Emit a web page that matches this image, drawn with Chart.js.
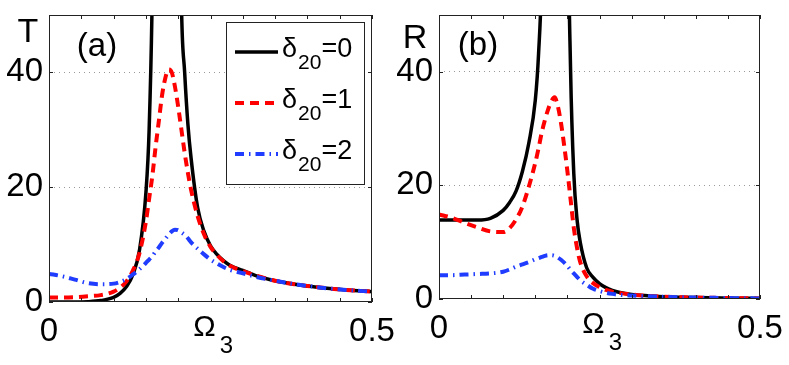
<!DOCTYPE html>
<html>
<head>
<meta charset="utf-8">
<script src="https://cdn.jsdelivr.net/npm/chart.js@4/dist/chart.umd.min.js"></script>
<style>
  html, body { margin: 0; padding: 0; background: #fff; overflow: hidden; }
  #wrap { position: relative; width: 789px; height: 365px; }
  canvas { position: absolute; top: 0; }
</style>
</head>
<body>
<div id="wrap">
  <canvas id="panel-a" width="400" height="365" style="left:0px"></canvas>
  <canvas id="panel-b" width="397" height="365" style="left:392px"></canvas>
</div>
<script>
// shared x grid (Omega_3)
const omega = [0, 0.02, 0.04, 0.06, 0.08, 0.1, 0.11, 0.12, 0.13, 0.14, 0.15, 0.155, 0.16, 0.165,
  0.17, 0.175, 0.18, 0.185, 0.19, 0.195, 0.2, 0.205, 0.21, 0.215, 0.22, 0.23, 0.24, 0.25, 0.26,
  0.27, 0.28, 0.3, 0.32, 0.35, 0.38, 0.4, 0.43, 0.46, 0.5];

// panel (a): transmission T
const tDelta0 = [0, 0, 0, 0.05, 0.25, 0.8, 1.5, 2.7, 4.8, 9, 19, 30, 55, 110,
  250, 600, 1000, 1000, 600, 250, 100, 52, 40, 31, 25, 16.5, 12.3, 9.8, 8.3,
  7.2, 6.4, 5.5, 4.6, 3.7, 3.1, 2.8, 2.4, 2.1, 1.8];
const tDelta1 = [0.8, 0.8, 0.85, 1.0, 1.2, 1.8, 2.5, 3.6, 5.5, 8.5, 14, 18, 22, 27,
  31.5, 36, 39, 40.5, 40, 37.5, 34, 30, 26, 22.5, 19.5, 15, 11.8, 9.6, 8.2,
  7.1, 6.3, 5.4, 4.6, 3.7, 3.1, 2.8, 2.4, 2.1, 1.8];
const tDelta2 = [4.9, 4.5, 3.9, 3.3, 3.1, 3.2, 3.5, 4.0, 4.8, 5.7, 6.8, 7.4, 8, 8.8,
  9.5, 10.3, 11, 11.7, 12.3, 12.6, 12.5, 12.1, 11.7, 11.1, 10.4, 9.3, 8.3, 7.4, 6.7,
  6.1, 5.6, 5.0, 4.4, 3.7, 3.1, 2.8, 2.4, 2.1, 1.8];

// panel (b): reflection R
const rDelta0 = [13.9, 13.9, 13.9, 13.9, 14.2, 15.6, 17, 19, 22.5, 27.5, 35, 43, 58, 100,
  250, 600, 1000, 1000, 600, 200, 80, 40, 22, 14, 10, 5.5, 3.8, 2.7, 2.0,
  1.5, 1.2, 0.8, 0.6, 0.4, 0.3, 0.25, 0.2, 0.15, 0.1];
const rDelta1 = [14.9, 14.3, 13.4, 12.6, 11.9, 11.8, 12.5, 14, 16.3, 19.8, 24, 26.5, 29.3, 31.5,
  33.4, 34.8, 35.5, 34, 31, 27, 22.5, 17.5, 12.5, 9, 6.5, 4, 2.8, 2.1, 1.6,
  1.3, 1.1, 0.8, 0.6, 0.4, 0.3, 0.25, 0.2, 0.15, 0.1];
const rDelta2 = [4.2, 4.2, 4.3, 4.4, 4.5, 4.8, 5.2, 5.7, 6.1, 6.5, 7.0, 7.2, 7.4, 7.6,
  7.7, 7.7, 7.6, 7.3, 6.9, 6.4, 5.8, 5.1, 4.5, 3.9, 3.3, 2.5, 1.8, 1.4, 1.1,
  0.9, 0.75, 0.6, 0.5, 0.4, 0.3, 0.25, 0.2, 0.15, 0.1];

const deltaValues = ['0', '1', '2'];
const xTickValues = [0, 0.05, 0.1, 0.15, 0.2, 0.25, 0.3, 0.35, 0.4, 0.45, 0.5];
const yTickValues = [0, 20, 40];

const lineStyles = [
  { color: '#000000', width: 3.5, dash: [] },
  { color: '#ff0000', width: 4, dash: [9, 6] },
  { color: '#1f3cff', width: 4, dash: [9, 5, 1.5, 5] }
];

const FONT = '"Liberation Sans", Arial, sans-serif';

function series(values, i) {
  const s = lineStyles[i];
  return {
    data: omega.map((x, k) => ({ x: x, y: values[k] })),
    borderColor: s.color,
    borderWidth: s.width,
    borderDash: s.dash,
    pointRadius: 0,
    cubicInterpolationMode: 'monotone',
    clip: 0,
    order: 3 - i
  };
}

// frame, inward ticks, panel texts and legend
const decorations = {
  id: 'decorations',
  afterDatasetsDraw(chart, args, o) {
    const { ctx, chartArea: a, scales: { x, y } } = chart;
    ctx.save();
    ctx.strokeStyle = '#222';
    ctx.lineWidth = 1;
    ctx.setLineDash([]);
    ctx.strokeRect(a.left + 0.5, a.top + 0.5, a.right - a.left - 1, a.bottom - a.top - 1);
    ctx.beginPath();
    xTickValues.forEach(v => {
      const px = Math.round(x.getPixelForValue(v)) + 0.5;
      ctx.moveTo(px, a.bottom); ctx.lineTo(px, a.bottom - 4);
      ctx.moveTo(px, a.top); ctx.lineTo(px, a.top + 4);
    });
    yTickValues.forEach(v => {
      const py = Math.round(y.getPixelForValue(v)) + 0.5;
      ctx.moveTo(a.left, py); ctx.lineTo(a.left + 4, py);
      ctx.moveTo(a.right, py); ctx.lineTo(a.right - 4, py);
    });
    ctx.stroke();

    ctx.fillStyle = '#000';
    ctx.textAlign = 'center';
    ctx.textBaseline = 'middle';
    ctx.font = '34px ' + FONT;
    ctx.fillText(o.name, a.left + o.nameDx, a.top + o.nameDy);
    ctx.font = '33px ' + FONT;
    ctx.fillText(o.tag, a.left + o.tagDx, a.top + o.tagDy);

    // x axis name Omega_3 at the middle tick
    const mid = x.getPixelForValue(0.25);
    ctx.textBaseline = 'alphabetic';
    ctx.font = '30px ' + FONT;
    ctx.fillText('Ω', mid - 6, a.bottom + 34);
    ctx.font = '24px ' + FONT;
    ctx.fillText('3', mid + 16, a.bottom + 51);

    if (o.legend) {
      const lx = a.left + 177, ly = a.top + 7;
      ctx.fillStyle = '#fff';
      ctx.fillRect(lx, ly, 138, 162);
      ctx.strokeStyle = '#222';
      ctx.strokeRect(lx + 0.5, ly + 0.5, 138, 162);
      deltaValues.forEach((d, i) => {
        const s = lineStyles[i];
        const yy = ly + 30 + i * 51;
        ctx.strokeStyle = s.color;
        ctx.lineWidth = s.width;
        ctx.setLineDash(s.dash);
        ctx.beginPath();
        ctx.moveTo(lx + 9, yy); ctx.lineTo(lx + 52, yy);
        ctx.stroke();
        ctx.setLineDash([]);
        ctx.fillStyle = '#000';
        ctx.textAlign = 'left';
        let tx = lx + 56;
        ctx.font = '27px ' + FONT;
        ctx.fillText('δ', tx, yy + 5);
        tx += ctx.measureText('δ').width + 1;
        ctx.font = '21px ' + FONT;
        ctx.fillText('20', tx, yy + 17);
        tx += ctx.measureText('20').width;
        ctx.font = '27px ' + FONT;
        ctx.fillText('=' + d, tx, yy + 5);
      });
    }
    ctx.restore();
  }
};

function makePanel(id, sets, deco, box) {
  return new Chart(document.getElementById(id), {
    type: 'line',
    data: { datasets: sets.map(series) },
    options: {
      responsive: false,
      animation: false,
      layout: { padding: { left: 0, top: box.top, right: box.right, bottom: 0 } },
      plugins: { legend: { display: false }, tooltip: { enabled: false }, decorations: deco },
      scales: {
        x: {
          type: 'linear', min: 0, max: 0.5,
          grid: { display: false, drawTicks: false },
          border: { display: false },
          afterBuildTicks: s => { s.ticks = xTickValues.map(v => ({ value: v })); },
          afterFit: s => { s.height = box.xHeight; s.paddingLeft = 0; s.paddingRight = 0; },
          ticks: {
            autoSkip: false, maxRotation: 0, padding: 10, color: '#000',
            font: { family: FONT, size: 33 },
            callback: v => (v === 0 ? '0' : v === 0.5 ? '0.5' : '')
          }
        },
        y: {
          min: 0, max: 50,
          grid: {
            drawTicks: false,
            color: c => (c.tick && (c.tick.value === 20 || c.tick.value === 40) ? '#9a9a9a' : 'rgba(0,0,0,0)'),
            lineWidth: 1
          },
          border: { display: false, dash: [1, 4] },
          afterBuildTicks: s => { s.ticks = yTickValues.map(v => ({ value: v })); },
          afterFit: s => { s.width = box.yWidth; s.paddingTop = 0; s.paddingBottom = 0; },
          ticks: { padding: 6, color: '#000', font: { family: FONT, size: 33 } }
        }
      }
    },
    plugins: [decorations]
  });
}

makePanel('panel-a', [tDelta0, tDelta1, tDelta2],
  { name: 'T', nameDx: -21, nameDy: 18, tag: '(a)', tagDx: 48, tagDy: 32, legend: true },
  { top: 15, right: 28, xHeight: 63, yWidth: 49 });

makePanel('panel-b', [rDelta0, rDelta1, rDelta2],
  { name: 'R', nameDx: -24, nameDy: 24, tag: '(b)', tagDx: 39, tagDy: 31, legend: false },
  { top: 15, right: 29, xHeight: 66, yWidth: 47 });
</script>
</body>
</html>
